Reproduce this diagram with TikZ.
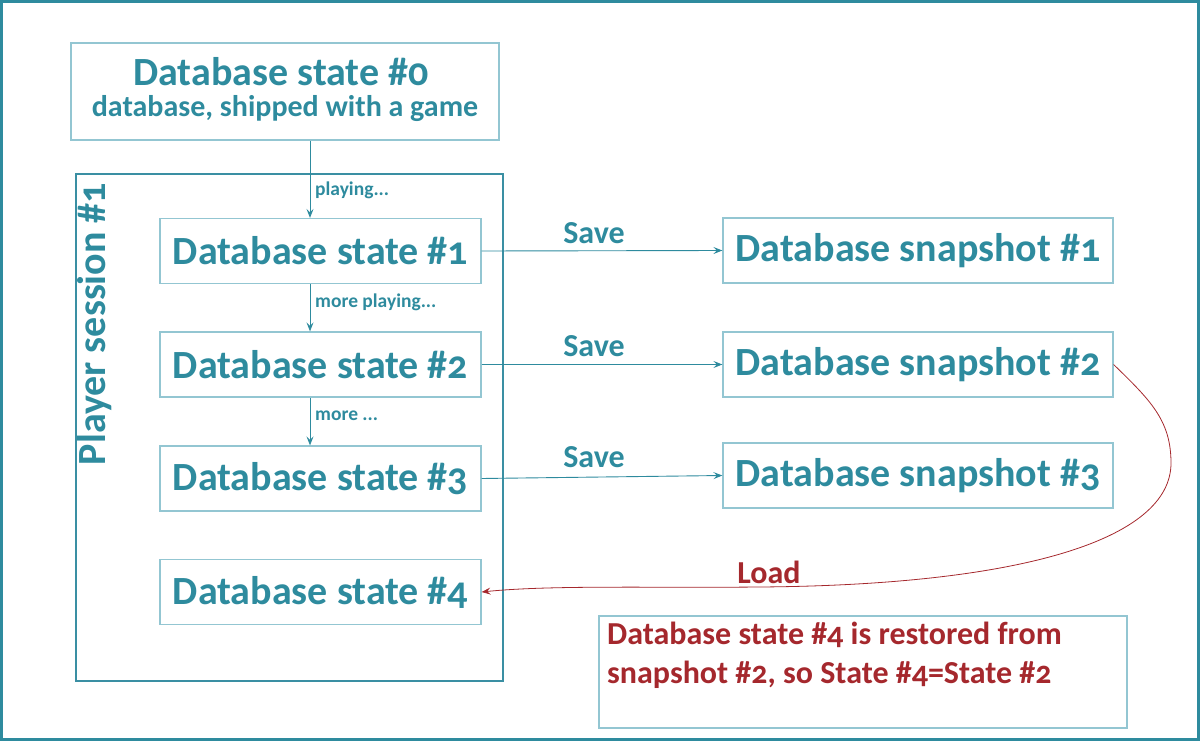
\documentclass[tikz,border=0pt]{standalone}
\usepackage{fontspec}
\setmainfont{Carlito}[Numbers=OldStyle]
\usetikzlibrary{arrows.meta}
\definecolor{teal1}{RGB}{46,139,158}
\definecolor{boxline}{RGB}{147,198,210}
\definecolor{sessline}{RGB}{58,143,163}
\definecolor{redc}{RGB}{165,40,45}
\tikzset{
  every node/.style={font=\bfseries, text=teal1, inner sep=0pt},
  statebox/.style={draw=boxline, line width=1.2pt, minimum width=321pt, minimum height=65pt, font=\fontsize{40}{46}\selectfont\bfseries},
  snapbox/.style={draw=boxline, line width=1.2pt, minimum width=390pt, minimum height=65pt, font=\fontsize{40}{46}\selectfont\bfseries},
  conn/.style={draw=teal1, line width=0.9pt, -{Stealth[length=9pt,width=7pt,inset=3.5pt]}},
  small/.style={font=\fontsize{19.5}{23}\selectfont\bfseries, anchor=west},
  mid/.style={font=\fontsize{32}{36}\selectfont\bfseries},
}
\begin{document}
\begin{tikzpicture}[x=1pt,y=-1pt]
\useasboundingbox (0,0) rectangle (1200,741);
\draw[teal1, line width=3pt] (1.5,1.5) rectangle (1198.5,739.5);
% top box
\node[draw=boxline, line width=1.2pt, minimum width=428pt, minimum height=97pt] (s0) at (285,91.5) {};
\node[font=\fontsize{40}{46}\selectfont\bfseries] (s0a) at (281,72) {Database state \#0};
\node[font=\fontsize{30}{34}\selectfont\bfseries] (s0b) at (285,109) {database, shipped with a game};
% session box
\draw[sessline, line width=1.4pt] (76,174) rectangle (503,681);
\node[rotate=90, font=\fontsize{40}{46}\selectfont\bfseries] (sess) at (95,324) {Player session \#1};
% states
\node[statebox] (d1) at (320.5,251) {Database state \#1};
\node[statebox] (d2) at (320.5,364.5) {Database state \#2};
\node[statebox] (d3) at (320.5,478.5) {Database state \#3};
\node[statebox] (d4) at (320.5,592) {Database state \#4};
% snapshots
\node[snapbox] (p1) at (918,250.5) {Database snapshot \#1};
\node[snapbox] (p2) at (918,364.5) {Database snapshot \#2};
\node[snapbox] (p3) at (918,475.5) {Database snapshot \#3};
% vertical arrows
\draw[conn] (s0.south -| 310,0) -- (d1.north -| 310,0);
\draw[conn] (d1.south -| 310,0) -- (d2.north -| 310,0);
\draw[conn] (d2.south -| 310,0) -- (d3.north -| 310,0);
\node[small] (l1) at (315,190) {playing...};
\node[small] (l2) at (315,302) {more playing...};
\node[small] (l3) at (315,416) {more ...};
% save arrows
\draw[conn] (d1.east) -- (p1.west);
\draw[conn] (d2.east) -- (p2.west);
\draw[conn] (d3.east) -- (p3.west);
\node[mid] (sv1) at (594,233) {Save};
\node[mid] (sv2) at (594,346) {Save};
\node[mid] (sv3) at (594,457) {Save};
% load
\coordinate (c1) at (1171,463);
\coordinate (c2) at (760,587);
\draw[redc, line width=0.8pt, -{Stealth[length=9pt,width=7pt,inset=3.5pt]}]
  (p2.east) .. controls (1150,400) and (1171,420) .. (c1)
  .. controls (1171,540) and (1020,585) .. (c2)
  .. controls (650,588) and (550,585) .. (d4.east);
\node[mid, text=redc] (ld) at (769,572) {Load};
% note
\node[draw=boxline, line width=1.2pt, minimum width=528pt, minimum height=112pt] (note) at (863,672) {};
\node[anchor=north west, align=left, text=redc, font=\fontsize{32}{39}\selectfont\bfseries] (nt) at (607,622)
  {Database state \#4 is restored from\\snapshot \#2, so State \#4=State \#2};
\end{tikzpicture}
\end{document}
